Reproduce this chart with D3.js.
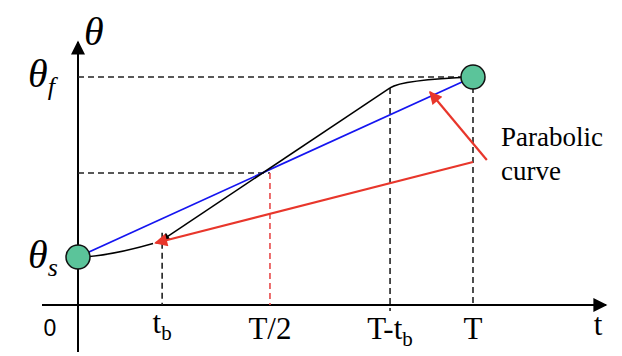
<!DOCTYPE html>
<html><head><meta charset="utf-8">
<script src="https://cdn.jsdelivr.net/npm/d3@7"></script>
<style>html,body{margin:0;padding:0;background:#fff;}svg{display:block;}</style>
</head><body>
<svg id="c" width="622" height="356"></svg>
<script>
// ---- data (time as fraction of T, angle as fraction of θs→θf) ----
const tickNames   = ["0", "t", "T/2", "T-t", "T"];
const tickSubs    = ["",  "b", "",    "b",   ""];
const tickValues  = [0, 0.213, 0.486, 0.79, 1.0];
const thetaStart  = 0;
const thetaEnd    = 1;
const thetaMid    = 0.467;
// blend trajectory: parabola, linear, parabola
const blendStart  = [[0, 0], [0.07, 0.0], [0.19, 0.075]];   // quadratic: start, control, end
const linearSeg   = [[0.213, 0.094], [0.79, 0.939]];
const blendEnd    = [[0.79, 0.939], [0.82, 0.985], [1.0, 1.0]];
const redArrows   = [[[1.0, 0.528], [0.196, 0.078]], [[1.035, 0.539], [0.891, 0.917]]];
const noteLines   = ["Parabolic", "curve"];

const svg = d3.select("#c");
const x = d3.scaleLinear().domain([0, 1]).range([78, 473]);
const y = d3.scaleLinear().domain([0, 1]).range([257, 77]);

const defs = svg.append("defs");
function marker(id, color, w, h) {
  defs.append("marker").attr("id", id).attr("viewBox", "0 0 10 10")
    .attr("refX", 9).attr("refY", 5).attr("markerUnits", "userSpaceOnUse")
    .attr("markerWidth", w).attr("markerHeight", h).attr("orient", "auto")
    .append("path").attr("d", "M0,0L10,5L0,10Z").attr("fill", color);
}
marker("axArr", "#000", 15, 14);
marker("redArr", "#e8362b", 16, 13);
marker("blkArr", "#000", 9, 8);

// axes
const axisY0 = 305;
svg.append("line").attr("x1", 42).attr("x2", 606).attr("y1", axisY0).attr("y2", axisY0)
  .attr("stroke", "#000").attr("stroke-width", 2).attr("marker-end", "url(#axArr)");
svg.append("line").attr("x1", x(0)).attr("x2", x(0)).attr("y1", 352).attr("y2", 42)
  .attr("stroke", "#000").attr("stroke-width", 2).attr("marker-end", "url(#axArr)");

// dashed guides
const dash = "6,4";
const dashColor = "#222";
svg.append("line").attr("x1", x(0)).attr("x2", x(1)).attr("y1", y(thetaEnd)).attr("y2", y(thetaEnd))
  .attr("stroke", dashColor).attr("stroke-width", 1.6).attr("stroke-dasharray", dash);
svg.append("line").attr("x1", x(0)).attr("x2", x(tickValues[2])).attr("y1", y(thetaMid)).attr("y2", y(thetaMid))
  .attr("stroke", dashColor).attr("stroke-width", 1.6).attr("stroke-dasharray", dash);
svg.append("line").attr("x1", x(tickValues[1])).attr("x2", x(tickValues[1])).attr("y1", y(0.135)).attr("y2", axisY0)
  .attr("stroke", dashColor).attr("stroke-width", 1.6).attr("stroke-dasharray", dash);
svg.append("line").attr("x1", x(tickValues[2])).attr("x2", x(tickValues[2])).attr("y1", y(thetaMid)).attr("y2", axisY0)
  .attr("stroke", "#e84a4a").attr("stroke-width", 1.6).attr("stroke-dasharray", dash);
svg.append("line").attr("x1", x(tickValues[3])).attr("x2", x(tickValues[3])).attr("y1", y(linearSeg[1][1])).attr("y2", 311)
  .attr("stroke", dashColor).attr("stroke-width", 1.6).attr("stroke-dasharray", dash);
svg.append("line").attr("x1", x(tickValues[4])).attr("x2", x(tickValues[4])).attr("y1", y(thetaEnd)).attr("y2", axisY0)
  .attr("stroke", dashColor).attr("stroke-width", 1.6).attr("stroke-dasharray", dash);

// blue straight line
svg.append("line").attr("x1", x(0)).attr("y1", y(thetaStart)).attr("x2", x(1)).attr("y2", y(thetaEnd))
  .attr("stroke", "#1515f0").attr("stroke-width", 1.7);

// black blended trajectory
function quad(p) {
  const path = d3.path();
  path.moveTo(x(p[0][0]), y(p[0][1]));
  path.quadraticCurveTo(x(p[1][0]), y(p[1][1]), x(p[2][0]), y(p[2][1]));
  return path.toString();
}
svg.append("path").attr("d", quad(blendStart)).attr("fill", "none").attr("stroke", "#000").attr("stroke-width", 1.5);
svg.append("path").attr("d", quad(blendEnd)).attr("fill", "none").attr("stroke", "#000").attr("stroke-width", 1.5);
svg.append("path").attr("d", d3.line().x(d => x(d[0])).y(d => y(d[1]))(linearSeg.slice().reverse()))
  .attr("fill", "none").attr("stroke", "#000").attr("stroke-width", 1.5).attr("marker-end", "url(#blkArr)");

// red arrows
redArrows.forEach(a => {
  svg.append("line").attr("x1", x(a[0][0])).attr("y1", y(a[0][1])).attr("x2", x(a[1][0])).attr("y2", y(a[1][1]))
    .attr("stroke", "#e8362b").attr("stroke-width", 2.2).attr("marker-end", "url(#redArr)");
});

// circles
[[0, thetaStart], [1, thetaEnd]].forEach(d => {
  svg.append("circle").attr("cx", x(d[0])).attr("cy", y(d[1])).attr("r", 12)
    .attr("fill", "#5bc49a").attr("stroke", "#111").attr("stroke-width", 1.5);
});

// tick labels
const serif = "'Liberation Serif', 'Times New Roman', serif";
tickNames.forEach((n, i) => {
  if (i === 0) {
    svg.append("text").attr("x", 50).attr("y", 336).attr("text-anchor", "middle")
      .attr("font-family", "'Liberation Sans', Arial, sans-serif").attr("font-size", 23).text(n);
    return;
  }
  const isLower = n.startsWith("t");
  const t = svg.append("text").attr("x", x(tickValues[i])).attr("y", isLower ? 333 : 339)
    .attr("text-anchor", "middle").attr("font-family", serif).attr("font-size", 31);
  t.append("tspan").text(n);
  if (tickSubs[i]) t.append("tspan").attr("font-size", 21).attr("dy", 7).text(tickSubs[i]);
});
svg.append("text").attr("x", 598).attr("y", 335).attr("text-anchor", "middle")
  .attr("font-family", serif).attr("font-size", 31).text("t");

// theta labels
svg.append("text").attr("x", 84).attr("y", 45).attr("font-family", serif).attr("font-style", "italic")
  .attr("font-size", 40).text("θ");
function thetaLabel(yy, sub) {
  const t = svg.append("text").attr("x", 28).attr("y", yy).attr("font-family", serif)
    .attr("font-style", "italic").attr("font-size", 40);
  t.append("tspan").text("θ");
  t.append("tspan").attr("font-size", 26).attr("dy", 8).text(sub);
}
thetaLabel(y(thetaEnd) + 10, "f");
thetaLabel(y(thetaStart) + 11, "s");

// note
noteLines.forEach((s, i) => {
  svg.append("text").attr("x", 501).attr("y", 146 + i * 34).attr("font-family", serif)
    .attr("font-size", 27).text(s);
});
</script>
</body></html>
